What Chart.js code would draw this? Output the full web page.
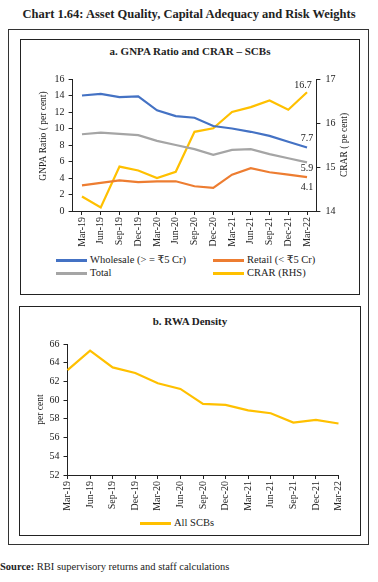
<!DOCTYPE html>
<html>
<head>
<meta charset="utf-8">
<script src="https://cdn.jsdelivr.net/npm/chart.js@4.4.0/dist/chart.umd.min.js"></script>
<style>
  body { margin: 0; width: 378px; height: 582px; position: relative; background: #fff; overflow: hidden;
         font-family: "Liberation Serif", "DejaVu Serif", serif; color: #222; }
  .abs { position: absolute; }
  .title { left: 0; width: 378px; top: 7px; text-align: center; font-weight: bold; font-size: 12.5px; }
  .box { box-sizing: border-box; border: 1.5px solid #222; }
  .panel-title { text-align: center; font-weight: bold; font-size: 11px; }
  .leg { font-size: 10.5px; line-height: 12px; white-space: nowrap; display: flex; align-items: center; }
  .leg i { display: inline-block; width: 31px; height: 3px; margin-right: 3px; }
  .source { left: 0; top: 561px; font-size: 10.5px; }
</style>
</head>
<body>
<div class="abs title">Chart 1.64: Asset Quality, Capital Adequacy and Risk Weights</div>
<div class="abs" style="left:8px;top:29px;width:361px;height:516px;box-sizing:border-box;border:1px solid #333;"></div>

<div class="abs box" style="left:20px;top:39px;width:340px;height:256px;"></div>
<div class="abs panel-title" style="left:20px;top:45px;width:340px;">a. GNPA Ratio and CRAR – SCBs</div>
<canvas id="gnpa" class="abs" width="338" height="188" style="left:21px;top:62px;"></canvas>
<div id="legendA"></div>

<div class="abs box" style="left:19px;top:306px;width:342px;height:230px;"></div>
<div class="abs panel-title" style="left:19px;top:315px;width:342px;">b. RWA Density</div>
<canvas id="rwa" class="abs" width="340" height="182" style="left:20px;top:334px;"></canvas>
<div id="legendB"></div>

<div class="abs source"><b>Source:</b> RBI supervisory returns and staff calculations</div>

<script>
const quarters = ['Mar-19', 'Jun-19', 'Sep-19', 'Dec-19', 'Mar-20', 'Jun-20', 'Sep-20',
    'Dec-20', 'Mar-21', 'Jun-21', 'Sep-21', 'Dec-21', 'Mar-22']

// panel a: GNPA ratios (left axis) and CRAR (right axis), per cent
const wholesaleGnpa = [14.0, 14.2, 13.8, 13.9, 12.2, 11.5, 11.3, 10.3, 10.0, 9.6, 9.1, 8.4, 7.7]
const retailGnpa = [3.1, 3.4, 3.7, 3.5, 3.6, 3.6, 3.0, 2.8, 4.4, 5.2, 4.7, 4.4, 4.1]
const totalGnpa = [9.3, 9.5, 9.35, 9.2, 8.5, 8.0, 7.5, 6.8, 7.4, 7.5, 6.9, 6.4, 5.9]
const crar = [14.33, 14.08, 15.01, 14.92, 14.75, 14.89, 15.80, 15.88, 16.25, 16.36, 16.51, 16.30, 16.7]

// panel b: RWA density, per cent
const rwaDensity = [63.2, 65.3, 63.5, 62.9, 61.8, 61.2, 59.6, 59.5, 58.9, 58.6, 57.6, 57.9, 57.5]

const FONT = '"Liberation Serif", "DejaVu Serif", serif'
const INK = '#222'

// rotated axis titles and the value labels at the last point
const extras = {
    id: 'extras',
    afterDraw(chart, args, opts) {
        const ctx = chart.ctx
        ctx.save()
        ctx.fillStyle = INK
        ctx.font = '9.5px ' + FONT
        ctx.textAlign = 'center'
        ctx.textBaseline = 'middle'
        ;(opts.axisTitles || []).forEach((t) => {
            const sc = chart.scales[t.scale]
            ctx.save()
            ctx.translate(t.x, (sc.top + sc.bottom) / 2 + (t.dy || 0))
            ctx.rotate(-Math.PI / 2)
            ctx.fillText(t.text, 0, 0)
            ctx.restore()
        })
        ctx.font = '10px ' + FONT
        ;(opts.endLabels || []).forEach((l) => {
            const data = chart.data.datasets[l.dataset].data
            const pt = chart.getDatasetMeta(l.dataset).data[data.length - 1]
            ctx.fillText(data[data.length - 1].toFixed(1), pt.x + (l.dx || 0), pt.y + l.dy)
        })
        ctx.restore()
    }
}

const axisStyle = (extra) => Object.assign({
    grid: { drawOnChartArea: false, drawTicks: true, tickLength: 4, color: INK },
    border: { color: INK, width: 1 },
    ticks: { color: INK, font: { family: FONT, size: 10 }, padding: 2 }
}, extra)

const series = (label, data, color, yAxisID) => ({
    label: label,
    data: [...data],
    borderColor: color,
    backgroundColor: color,
    borderWidth: 2.2,
    pointRadius: 0,
    tension: 0,
    yAxisID: yAxisID
})

const gnpaSets = [
    series('Wholesale (> = ₹5 Cr)', wholesaleGnpa, '#4472C4', 'y'),
    series('Retail (< ₹5 Cr)', retailGnpa, '#ED7D31', 'y'),
    series('Total', totalGnpa, '#A5A5A5', 'y'),
    series('CRAR (RHS)', crar, '#FFC000', 'y1')
]

new Chart(document.getElementById('gnpa'), {
    type: 'line',
    data: { labels: quarters, datasets: gnpaSets },
    options: {
        responsive: false,
        animation: false,
        layout: { padding: { top: 17, left: 0, right: 0, bottom: 0 } },
        plugins: {
            legend: { display: false },
            tooltip: { enabled: false },
            extras: {
                axisTitles: [
                    { scale: 'y', x: 22, dy: -9, text: 'GNPA Ratio ( per cent)' },
                    { scale: 'y1', x: 323, text: 'CRAR ( pe cent)' }
                ],
                endLabels: [
                    { dataset: 3, dx: -4, dy: -7 },
                    { dataset: 0, dy: -9 },
                    { dataset: 2, dy: 6 },
                    { dataset: 1, dy: 10 }
                ]
            }
        },
        scales: {
            x: axisStyle({
                offset: true,
                ticks: { color: INK, font: { family: FONT, size: 10 }, padding: 2,
                    minRotation: 90, maxRotation: 90, autoSkip: false },
                afterFit: (s) => { s.height = 39 }
            }),
            y: axisStyle({
                position: 'left', min: 0, max: 16,
                ticks: { color: INK, font: { family: FONT, size: 10 }, padding: 4, stepSize: 2 },
                afterFit: (s) => { s.width = 51.6 }
            }),
            y1: axisStyle({
                position: 'right', min: 14, max: 17,
                ticks: { color: INK, font: { family: FONT, size: 10 }, padding: 5, stepSize: 1 },
                afterFit: (s) => { s.width = 42.6 }
            })
        }
    },
    plugins: [extras]
})

new Chart(document.getElementById('rwa'), {
    type: 'line',
    data: { labels: quarters, datasets: [series('All SCBs', rwaDensity, '#FFC000', 'y')] },
    options: {
        responsive: false,
        animation: false,
        layout: { padding: { top: 10, left: 0, right: 21.5, bottom: 0 } },
        plugins: {
            legend: { display: false },
            tooltip: { enabled: false },
            extras: { axisTitles: [{ scale: 'y', x: 20, text: 'per cent' }] }
        },
        scales: {
            x: axisStyle({
                offset: false,
                ticks: { color: INK, font: { family: FONT, size: 10 }, padding: 2,
                    minRotation: 90, maxRotation: 90, autoSkip: false },
                afterFit: (s) => { s.height = 41 }
            }),
            y: axisStyle({
                min: 52, max: 66,
                ticks: { color: INK, font: { family: FONT, size: 10 }, padding: 4, stepSize: 2 },
                afterFit: (s) => { s.width = 47.5 }
            })
        }
    },
    plugins: [extras]
})

// HTML legends built from the datasets
const legendItem = (ds, left, top) => {
    const el = document.createElement('div')
    el.className = 'abs leg'
    el.style.left = left + 'px'
    el.style.top = top + 'px'
    const sw = document.createElement('i')
    sw.style.background = ds.borderColor
    el.appendChild(sw)
    el.appendChild(document.createTextNode(ds.label))
    return el
}
const legA = document.getElementById('legendA')
const legPos = [[56, 254], [213, 254], [56, 267], [213, 267]]
gnpaSets.forEach((ds, i) => legA.appendChild(legendItem(ds, legPos[i][0], legPos[i][1])))
document.getElementById('legendB').appendChild(legendItem({ label: 'All SCBs', borderColor: '#FFC000' }, 140, 517))
</script>
</body>
</html>
